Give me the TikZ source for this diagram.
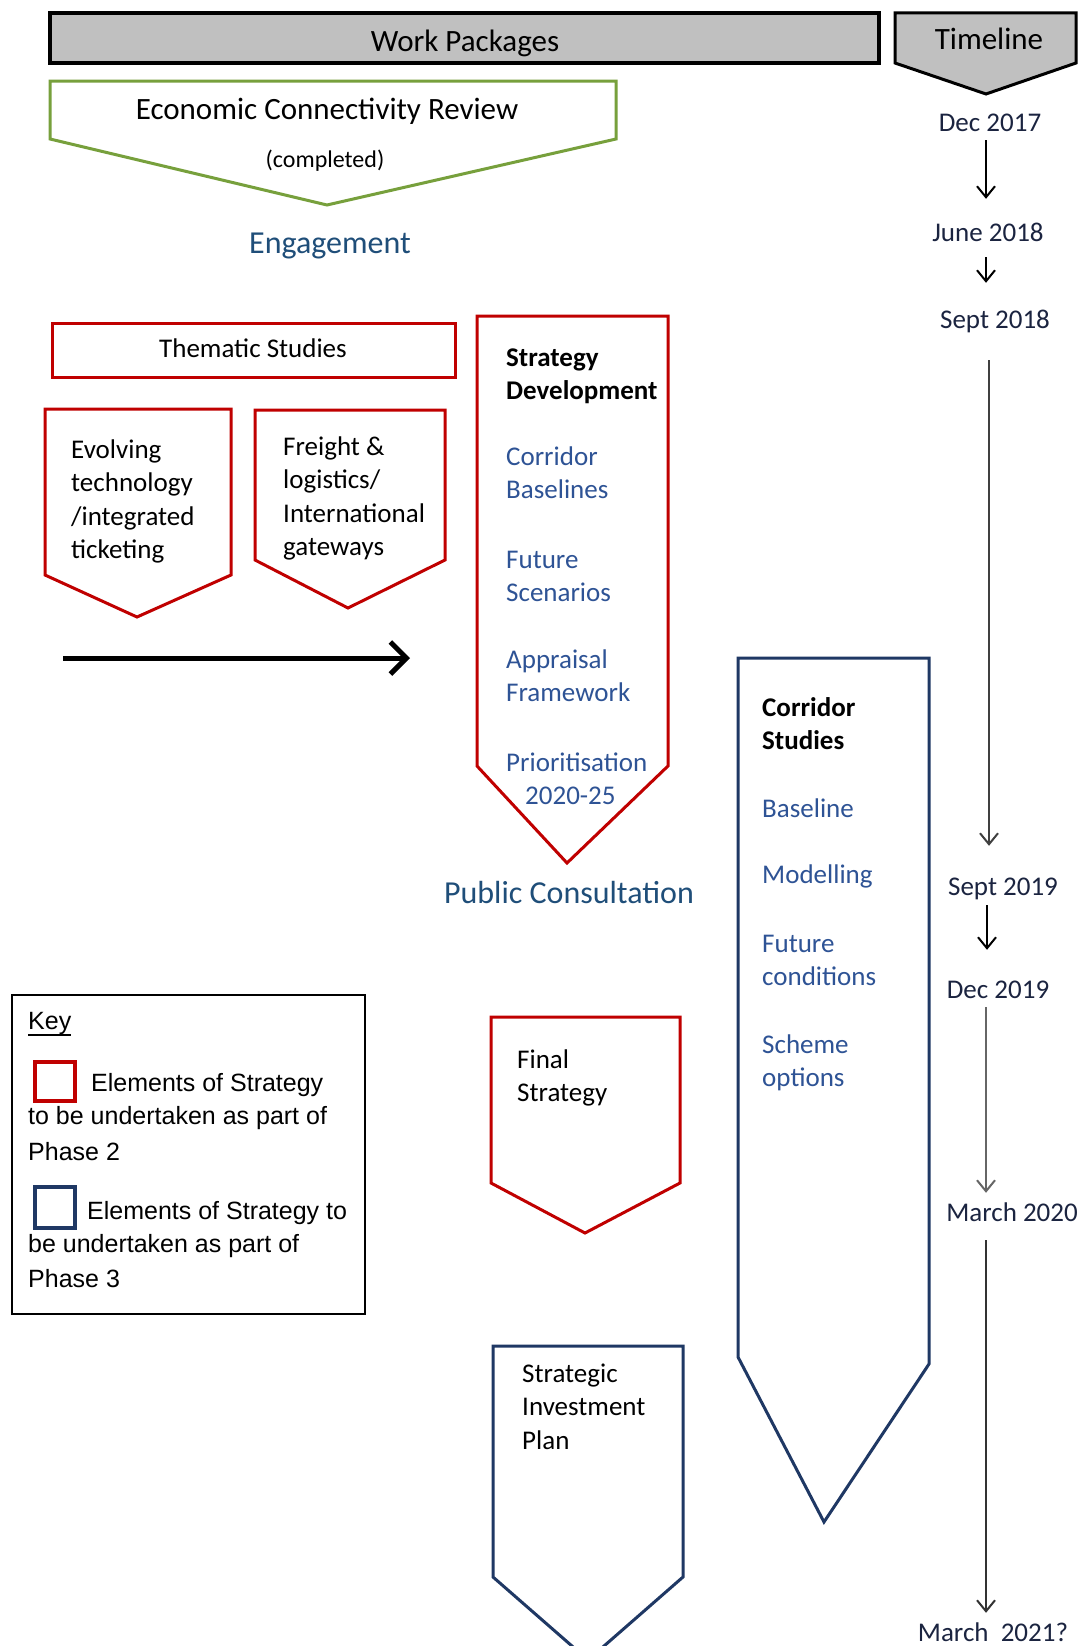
\documentclass[tikz,border=0pt]{standalone}
\usepackage{fontspec}
\setmainfont{Carlito}
\newfontfamily\arialfont{Liberation Sans}
\usetikzlibrary{arrows.meta}
\definecolor{wpred}{HTML}{C00000}
\definecolor{wpnavy}{HTML}{1F3864}
\definecolor{wpgreen}{HTML}{77A03C}
\definecolor{wpblue}{HTML}{2E5395}
\definecolor{wphead}{HTML}{1F4E79}
\definecolor{wpgrey}{HTML}{C0C0C0}
\definecolor{datecol}{HTML}{1B2440}
\begin{document}
\begin{tikzpicture}[x=1pt,y=-1pt,
  hdr/.style={inner sep=0pt, anchor=base, font=\fontsize{31}{37}\selectfont},
  body/.style={inner sep=0pt, anchor=north west, align=left, font=\fontsize{27}{33.5}\selectfont},
  bluetxt/.style={body, text=wpblue},
  datenode/.style={inner sep=0pt, text height=17pt, text depth=0pt, font=\fontsize{27}{33}\selectfont, text=datecol},
  keytxt/.style={inner sep=0pt, anchor=base west, font=\arialfont\fontsize{25}{30}\selectfont},
  redbox/.style={draw=wpred, line width=3pt, fill=white},
  navybox/.style={draw=wpnavy, line width=3pt, fill=white},
  tlarrow/.style={line width=2pt, -{Straight Barb[length=11pt,width=18pt]}}]
\clip (0,0) rectangle (1084,1646);
\fill[white] (0,0) rectangle (1084,1646);

% header bar and timeline
\draw[line width=4pt, fill=wpgrey] (50,13) rectangle (879,63);
\node[hdr] (wp) at (465,52) {Work Packages};
\draw[line width=3pt, fill=wpgrey] (895,13) -- (1076,13) -- (1076,63) -- (986,94) -- (895,63) -- cycle;
\node[hdr] (tl) at (989,50) {Timeline};

% economic connectivity review
\draw[draw=wpgreen, line width=3pt] (50,81) -- (616,81) -- (616,139) -- (327,205) -- (50,139) -- cycle;
\node[hdr] (ecr) at (327,119) {Economic Connectivity Review};
\node[inner sep=0pt, anchor=base, font=\fontsize{24}{28}\selectfont] (comp) at (325,167) {(completed)};
\node[inner sep=0pt, anchor=base, font=\fontsize{32}{38}\selectfont, text=wphead] (eng) at (330,253) {Engagement};

% thematic studies
\draw[redbox] (52,323) rectangle (455,377);
\node[inner sep=0pt, anchor=base, font=\fontsize{27}{33}\selectfont] (them) at (253,357) {Thematic Studies};
\draw[redbox] (45,409) -- (231,409) -- (231,575) -- (137,617) -- (45,575) -- cycle;
\node[body] (evo) at (71,434.5) {\strut Evolving\\technology\\/integrated\\ticketing};
\draw[redbox] (255,410) -- (445,410) -- (445,560) -- (348,608) -- (255,560) -- cycle;
\node[body] (frt) at (283,431.5) {\strut Freight \&\\logistics/\\International\\gateways};
\coordinate (thA) at (63,658);
\coordinate (thB) at (410,658);
\draw[line width=5pt, -{Straight Barb[length=16pt,width=32pt]}] (thA) -- (thB);

% strategy development
\draw[redbox] (477,316) -- (668,316) -- (668,766) -- (567,863) -- (477,766) -- cycle;
\node[body, font=\bfseries\fontsize{27}{33.5}\selectfont] (sdA) at (506,342.5) {\strut Strategy\\Development};
\node[bluetxt] (sdB) at (506,441.5) {\strut Corridor\\Baselines};
\node[bluetxt] (sdC) at (506,544.5) {\strut Future\\Scenarios};
\node[bluetxt] (sdD) at (506,644.5) {\strut Appraisal\\Framework};
\node[bluetxt] (sdE) at (506,747.5) {\strut Prioritisation\\\hspace*{19pt}2020-25};
\node[inner sep=0pt, anchor=base, font=\fontsize{32}{38}\selectfont, text=wphead] (pc) at (569,903) {Public Consultation};

% corridor studies
\draw[navybox] (738,658) -- (929,658) -- (929,1364) -- (824,1522) -- (738,1357) -- cycle;
\node[body, font=\bfseries\fontsize{27}{33.5}\selectfont] (csA) at (762,692.5) {\strut Corridor\\Studies};
\node[bluetxt] (csB) at (762,793.5) {\strut Baseline};
\node[bluetxt] (csC) at (762,859.5) {\strut Modelling};
\node[bluetxt] (csD) at (762,928.5) {\strut Future\\conditions};
\node[bluetxt] (csE) at (762,1029.5) {\strut Scheme\\options};

% final strategy
\draw[redbox] (491,1017) -- (680,1017) -- (680,1183) -- (585,1233) -- (491,1183) -- cycle;
\node[body] (fs) at (517,1044.5) {\strut Final\\Strategy};

% strategic investment plan
\draw[navybox] (493,1346) -- (683,1346) -- (683,1577) -- (588,1660) -- (493,1577) -- cycle;
\node[body] (sip) at (522,1358.5) {\strut Strategic\\Investment\\Plan};

% key
\draw[line width=2pt] (11.5,995) rectangle (365,1314);
\node[keytxt] (key) at (28,1029) {Key};
\draw[line width=1.8pt] ([yshift=-6pt]key.base west) -- ([yshift=-6pt]key.base east);
\draw[draw=wpred, line width=3.5pt] (35,1062) rectangle (75,1101);
\node[keytxt] (k1) at (91,1091) {Elements of Strategy};
\node[keytxt] (k2) at (28,1124.5) {to be undertaken as part of};
\node[keytxt] (k3) at (28,1160) {Phase 2};
\draw[draw=wpnavy, line width=3.5pt] (35,1187) rectangle (75,1228);
\node[keytxt] (k4) at (87,1219) {Elements of Strategy to};
\node[keytxt] (k5) at (28,1252.5) {be undertaken as part of};
\node[keytxt] (k6) at (28,1287) {Phase 3};

% timeline dates
\node[datenode] (dA) at (990,123) {Dec 2017};
\node[datenode] (dB) at (988,233) {June 2018};
\node[datenode] (dC) at (995,320) {Sept 2018};
\node[datenode] (dD) at (1003,887) {Sept 2019};
\node[datenode] (dE) at (998,990) {Dec 2019};
\node[datenode] (dF) at (1012,1213) {March 2020};
\node[datenode] (dG) at (993,1633) {March~ 2021?};

\draw[tlarrow, shorten <=8.5pt, shorten >=25.5pt] ([xshift=-4pt]dA.south) -- ([xshift=-2pt]dB.north);
\draw[tlarrow, shorten <=15.5pt, shorten >=28.5pt] ([xshift=-2pt]dB.south) -- ([xshift=-9pt]dC.north);
\draw[tlarrow, draw=black!75, shorten <=31.5pt, shorten >=32.5pt] ([xshift=-6pt]dC.south) -- ([xshift=-14pt]dD.north);
\draw[tlarrow, shorten <=9.5pt, shorten >=31.5pt] ([xshift=-16pt]dD.south) -- ([xshift=-11pt]dE.north);
\draw[tlarrow, draw=black!60, shorten <=8.5pt, shorten >=11.5pt] ([xshift=-12pt]dE.south) -- ([xshift=-26pt]dF.north);
\draw[tlarrow, draw=black!80, shorten <=18.5pt, shorten >=11.5pt] ([xshift=-26pt]dF.south) -- ([xshift=-7pt]dG.north);
\end{tikzpicture}
\end{document}
